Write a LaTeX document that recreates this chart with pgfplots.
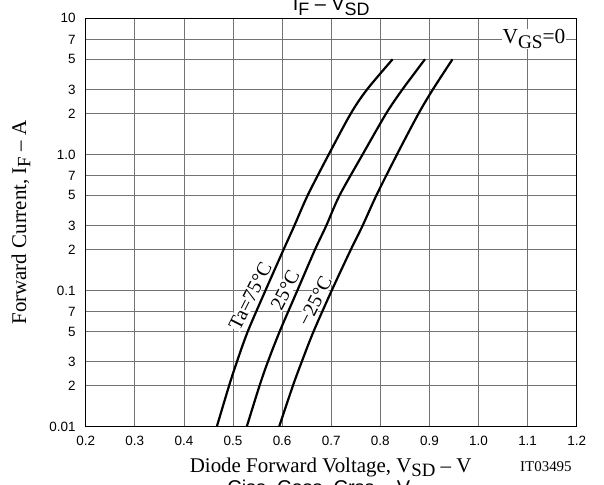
\documentclass[border=0pt]{standalone}
\usepackage{graphicx}
\usepackage{fontspec}
\setmainfont{Liberation Serif}
\setsansfont{Liberation Sans}
\usepackage{pgfplots}
\pgfplotsset{compat=1.18}
\newcommand\sub[1]{\raisebox{-0.45ex}{\scalebox{0.9}{#1}}}
\newcommand\lab{\fontsize{20}{20}\selectfont}

\begin{document}
\begin{tikzpicture}
\begin{axis}[
  at={(0,0)}, anchor=south west,
  scale only axis, width=491bp, height=408.4bp,
  xmin=0.2, xmax=1.2,
  ymode=log, ymin=0.01, ymax=10,
  xtick={0.2,0.3,0.4,0.5,0.6,0.7,0.8,0.9,1.0,1.1,1.2},
  xticklabels={0.2,0.3,0.4,0.5,0.6,0.7,0.8,0.9,1.0,1.1,1.2},
  ytick={0.01,0.02,0.03,0.05,0.07,0.1,0.2,0.3,0.5,0.7,1,2,3,5,7,10},
  yticklabels={0.01,2,3,5,7,0.1,2,3,5,7,1.0,2,3,5,7,10},
  extra y ticks={0.1,1}, extra y tick labels={},
  extra y tick style={grid style={black, line width=0.9pt}},
  major tick length=0pt,
  grid=major,
  major grid style={black!55, line width=0.8pt},
  axis line style={line width=1.4pt},
  tick label style={font=\sffamily\fontsize{13.5}{14}\selectfont},
  yticklabel style={anchor=east, inner sep=0pt, xshift=-10bp},
  xticklabel style={anchor=north, inner sep=0pt, yshift=-9.5bp},
]
% Ta = 75 C
\addplot[black, line width=2.2pt, smooth] coordinates {
(0.467,0.01) (0.492,0.02) (0.508,0.03) (0.530,0.05) (0.566,0.1) (0.603,0.2)
(0.625,0.3) (0.652,0.5) (0.695,1) (0.740,2) (0.773,3) (0.825,5)};
% 25 C
\addplot[black, line width=2.2pt, smooth] coordinates {
(0.528,0.01) (0.554,0.02) (0.571,0.03) (0.595,0.05) (0.631,0.1) (0.667,0.2)
(0.690,0.3) (0.717,0.5) (0.764,1) (0.812,2) (0.845,3) (0.891,5)};
% -25 C
\addplot[black, line width=2.2pt, smooth] coordinates {
(0.594,0.01) (0.622,0.02) (0.640,0.03) (0.664,0.05) (0.701,0.1) (0.740,0.2)
(0.764,0.3) (0.792,0.5) (0.834,1) (0.878,2) (0.907,3) (0.947,5)};

\node[rotate=63, fill=white, inner sep=0.5pt, font=\lab] at (axis cs:0.535,0.091) {Ta=75°C};
\node[rotate=63, fill=white, inner sep=0.5pt, font=\lab] at (axis cs:0.606,0.1007) {25°C};
\node[rotate=63, fill=white, inner sep=0.5pt, font=\lab] at (axis cs:0.667,0.0838) {−25°C};
\node[fill=white, inner sep=1pt, font=\fontsize{21.5}{21.5}\selectfont] at (axis cs:1.113,7.04) {V\sub{GS}=0};
\end{axis}

\node[anchor=base, font=\sffamily\lab] at (245.5bp,415.7bp) {I\sub{F} – V\sub{SD}};
\node[rotate=90, font=\fontsize{21}{21}\selectfont] at (-64.7bp,204.2bp) {Forward Current, I\sub{F} – A};
\node[font=\fontsize{21}{21}\selectfont] at (245bp,-40.3bp) {Diode Forward Voltage, V\sub{SD} – V};
\node[anchor=east, font=\fontsize{15}{15}\selectfont] at (489.5bp,-40.3bp) {IT03495};
\node[anchor=base, font=\sffamily\lab] at (245.5bp,-67.5bp) {Ciss, Coss, Crss – V\sub{DS}};

\pgfresetboundingbox
\useasboundingbox (-85.7bp,-58.3bp) rectangle (518.3bp,426.7bp);
\end{tikzpicture}
\end{document}
